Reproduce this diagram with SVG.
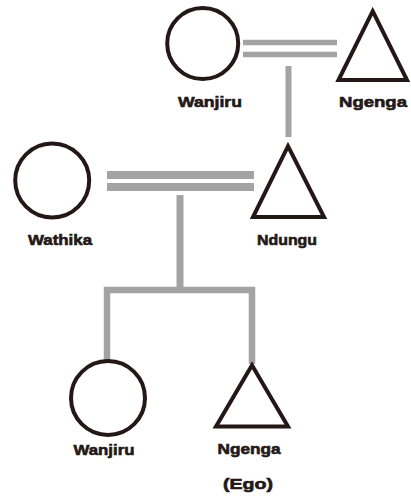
<svg xmlns="http://www.w3.org/2000/svg" width="411" height="498" viewBox="0 0 411 498">
<style>
.shape{fill:#fff;stroke:#231815;stroke-width:4;stroke-linejoin:miter}
.line{stroke:#a3a3a3;fill:none;stroke-linecap:butt}
.lbl{font-family:"Liberation Sans",Arial,sans-serif;font-weight:bold;font-size:15px;fill:#231815;stroke:#231815;stroke-width:0.6;text-anchor:middle}
</style>
<rect width="411" height="498" fill="#fff"/>
<g id="connectors">
<line class="line" x1="243" y1="42.5" x2="337" y2="42.5" stroke-width="5.5"/>
<line class="line" x1="243" y1="54.5" x2="337" y2="54.5" stroke-width="5.5"/>
<line class="line" x1="288.5" y1="66" x2="288.5" y2="137" stroke-width="6"/>
<line class="line" x1="107" y1="175" x2="254" y2="175" stroke-width="8"/>
<line class="line" x1="107" y1="187" x2="254" y2="187" stroke-width="8"/>
<line class="line" x1="180" y1="195" x2="180" y2="290" stroke-width="7"/>
<polyline class="line" points="107,362 107,290 252,290 252,364" stroke-width="6.5"/>
</g>
<g id="wanjiru-top">
<circle class="shape" cx="202.7" cy="43.5" r="35.5"/>
<text class="lbl" x="210" y="107" textLength="64" lengthAdjust="spacingAndGlyphs">Wanjiru</text>
</g>
<g id="ngenga-top">
<polygon class="shape" points="372.7,11.2 407,80 338.5,80"/>
<text class="lbl" x="373" y="107" textLength="68" lengthAdjust="spacingAndGlyphs">Ngenga</text>
</g>
<g id="wathika">
<circle class="shape" cx="52.2" cy="180.5" r="37"/>
<text class="lbl" x="60" y="245" textLength="64" lengthAdjust="spacingAndGlyphs">Wathika</text>
</g>
<g id="ndungu">
<polygon class="shape" points="288,146.2 324,217 253,217"/>
<text class="lbl" x="287" y="245" textLength="60" lengthAdjust="spacingAndGlyphs">Ndungu</text>
</g>
<g id="wanjiru-bottom">
<circle class="shape" cx="108" cy="398" r="37"/>
<text class="lbl" x="104" y="455" textLength="61" lengthAdjust="spacingAndGlyphs">Wanjiru</text>
</g>
<g id="ngenga-ego">
<polygon class="shape" points="252,365.2 288,426.5 216,426.5"/>
<text class="lbl" x="249" y="454" textLength="63" lengthAdjust="spacingAndGlyphs">Ngenga</text>
<text class="lbl" x="248" y="489" textLength="50" lengthAdjust="spacingAndGlyphs">(Ego)</text>
</g>
</svg>
